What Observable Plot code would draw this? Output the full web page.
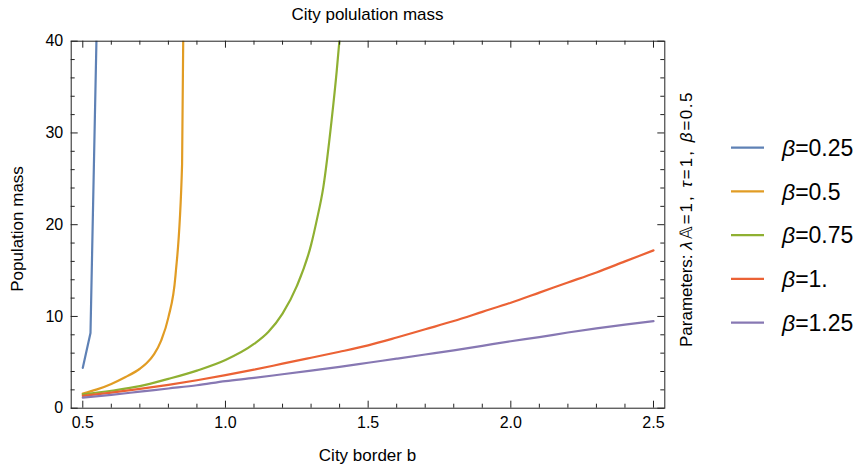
<!DOCTYPE html>
<html><head><meta charset="utf-8">
<script src="https://cdn.jsdelivr.net/npm/d3@7"></script>
<script src="https://cdn.jsdelivr.net/npm/@observablehq/plot@0.6"></script>
<style>body{margin:0;background:#fff}#chart{position:relative;width:862px;height:471px}</style>
</head><body><div id="chart"></div>
<script>
// ---- data ----
const seriesBeta = ["0.25", "0.5", "0.75", "1.", "1.25"];
const seriesColors = ["#5E81B5", "#E19C24", "#8FB032", "#EB6235", "#8778B3"];

const b025x = [0.5, 0.527, 0.548];
const b025y = [4.4, 8.2, 40.3];

const b050x = [0.5, 0.55, 0.6, 0.65, 0.7, 0.725, 0.75, 0.775, 0.8, 0.825, 0.848, 0.852];
const b050y = [1.6, 2.05, 2.65, 3.4, 4.3, 4.95, 5.9, 7.4, 9.9, 14.5, 26.6, 40.3];

const b075x = [0.5, 0.6, 0.7, 0.8, 0.9, 1.0, 1.1, 1.15, 1.2, 1.25, 1.3, 1.32, 1.343, 1.372, 1.39, 1.4];
const b075y = [1.5, 1.9, 2.4, 3.2, 4.1, 5.25, 7.0, 8.3, 10.3, 13.3, 17.8, 20.5, 24.1, 31.4, 36.8, 40.3];

const b100x = [0.5, 0.6, 0.7, 0.8, 0.9, 1.0, 1.1, 1.2, 1.3, 1.4, 1.5, 1.6, 1.7, 1.8, 1.9, 2.0, 2.1, 2.2, 2.3, 2.4, 2.5];
const b100y = [1.35, 1.7, 2.1, 2.55, 3.05, 3.6, 4.2, 4.85, 5.5, 6.15, 6.85, 7.7, 8.6, 9.5, 10.5, 11.5, 12.6, 13.7, 14.8, 16.0, 17.2];

const b125x = [0.5, 0.6, 0.7, 0.8, 0.9, 1.0, 1.1, 1.2, 1.3, 1.4, 1.5, 1.6, 1.7, 1.8, 1.9, 2.0, 2.1, 2.2, 2.3, 2.4, 2.5];
const b125y = [1.15, 1.45, 1.8, 2.15, 2.5, 2.95, 3.3, 3.7, 4.1, 4.5, 4.95, 5.4, 5.85, 6.3, 6.8, 7.3, 7.75, 8.25, 8.7, 9.1, 9.5];

const xDomain = [0.4594, 2.5396];
const yDomain = [0, 40];
const xMajor = [0.5, 1.0, 1.5, 2.0, 2.5];
const xMinor = [0.6, 0.7, 0.8, 0.9, 1.1, 1.2, 1.3, 1.4, 1.6, 1.7, 1.8, 1.9, 2.1, 2.2, 2.3, 2.4];
const yMajor = [0, 10, 20, 30, 40];
const yMinor = [2, 4, 6, 8, 12, 14, 16, 18, 22, 24, 26, 28, 32, 34, 36, 38];

const titleText = "City polulation mass";
const xLabel = "City border b";
const yLabel = "Population mass";

// ---- build table ----
const xs = [b025x, b050x, b075x, b100x, b125x];
const ys = [b025y, b050y, b075y, b100y, b125y];
const rows = [];
seriesBeta.forEach((s, k) => xs[k].forEach((x, i) => rows.push({s, b: x, m: ys[k][i]})));
const rowsKinked = rows.filter(d => d.s === seriesBeta[0]);
const rowsSmooth = rows.filter(d => d.s !== seriesBeta[0]);

const W = 862, H = 471;
const mL = 70.7, mR = 862 - 664.3, mT = 40.7, mB = 471 - 407.7;
const frameColor = "#222";
const major = 7, minor = 4;

const svg = Plot.plot({
  width: W, height: H,
  marginLeft: mL, marginRight: mR, marginTop: mT, marginBottom: mB,
  x: {domain: xDomain},
  y: {domain: yDomain},
  color: {domain: seriesBeta, range: seriesColors},
  style: {fontFamily: "'Liberation Sans', Arial, sans-serif", fontSize: "16px", color: "#000", background: "#fff"},
  marks: [
    Plot.line(rowsKinked, {x: "b", y: "m", z: "s", stroke: "s", strokeWidth: 2.2, clip: true}),
    Plot.line(rowsSmooth, {x: "b", y: "m", z: "s", stroke: "s", strokeWidth: 2.2, curve: "monotone-x", clip: true}),
    Plot.frame({stroke: frameColor, strokeWidth: 1}),
    Plot.ruleX(xMajor, {x: d => d, y1: yDomain[0], y2: yDomain[0], insetTop: -major, stroke: frameColor}),
    Plot.ruleX(xMinor, {x: d => d, y1: yDomain[0], y2: yDomain[0], insetTop: -minor, stroke: frameColor}),
    Plot.ruleX(xMajor, {x: d => d, y1: yDomain[1], y2: yDomain[1], insetBottom: -major, stroke: frameColor}),
    Plot.ruleX(xMinor, {x: d => d, y1: yDomain[1], y2: yDomain[1], insetBottom: -minor, stroke: frameColor}),
    Plot.ruleY(yMajor, {y: d => d, x1: xDomain[0], x2: xDomain[0], insetRight: -major, stroke: frameColor}),
    Plot.ruleY(yMinor, {y: d => d, x1: xDomain[0], x2: xDomain[0], insetRight: -minor, stroke: frameColor}),
    Plot.ruleY(yMajor, {y: d => d, x1: xDomain[1], x2: xDomain[1], insetLeft: -major, stroke: frameColor}),
    Plot.ruleY(yMinor, {y: d => d, x1: xDomain[1], x2: xDomain[1], insetLeft: -minor, stroke: frameColor}),
    Plot.axisX(xMajor, {anchor: "bottom", tickSize: 0, tickPadding: 8, tickFormat: d => d.toFixed(1), label: null}),
    Plot.axisY(yMajor, {anchor: "left", tickSize: 0, tickPadding: 8, tickFormat: d => String(d), label: null})
  ]
});

const g = d3.select(svg);
const ff = "'Liberation Sans', Arial, sans-serif";
const cx = (mL + (W - mR)) / 2;

g.append("text").attr("x", cx).attr("y", 20).attr("text-anchor", "middle")
  .attr("font-family", ff).attr("font-size", 17).attr("fill", "#000").text(titleText);

g.append("text").attr("x", cx).attr("y", 461).attr("text-anchor", "middle")
  .attr("font-family", ff).attr("font-size", 17).attr("fill", "#000").text(xLabel);

g.append("text").attr("transform", "translate(23,229) rotate(-90)").attr("text-anchor", "middle")
  .attr("font-family", ff).attr("font-size", 17).attr("fill", "#000").text(yLabel);

// rotated parameter label
const pt = g.append("text").attr("transform", "translate(692,219) rotate(-90)").attr("text-anchor", "middle")
  .attr("font-family", ff).attr("font-size", 17).attr("fill", "#000");
const parts = [["Parameters: ", false, 0], ["λ", true, 2], ["𝔸", false, 2], ["=1, ", false, 2], ["τ", true, 2], ["=1, ", false, 2], ["β", true, 2], ["=0.5", false, 1.5]];
parts.forEach(([t, it, ls]) => pt.append("tspan").attr("font-style", it ? "italic" : "normal").attr("letter-spacing", ls).text(t));

// legend
const lg = g.append("g").attr("text-anchor", "start");
seriesBeta.forEach((s, i) => {
  const y = 147.7 + i * 43.75;
  lg.append("line").attr("x1", 731).attr("x2", 764).attr("y1", y).attr("y2", y)
    .attr("stroke", seriesColors[i]).attr("stroke-width", 2.2);
  const t = lg.append("text").attr("x", 782).attr("y", y).attr("dy", "0.36em").attr("text-anchor", "start")
    .attr("font-family", ff).attr("font-size", 23).attr("fill", "#000");
  t.append("tspan").attr("font-style", "italic").text("β");
  t.append("tspan").text("=" + s);
});

document.getElementById("chart").appendChild(svg);
</script></body></html>
